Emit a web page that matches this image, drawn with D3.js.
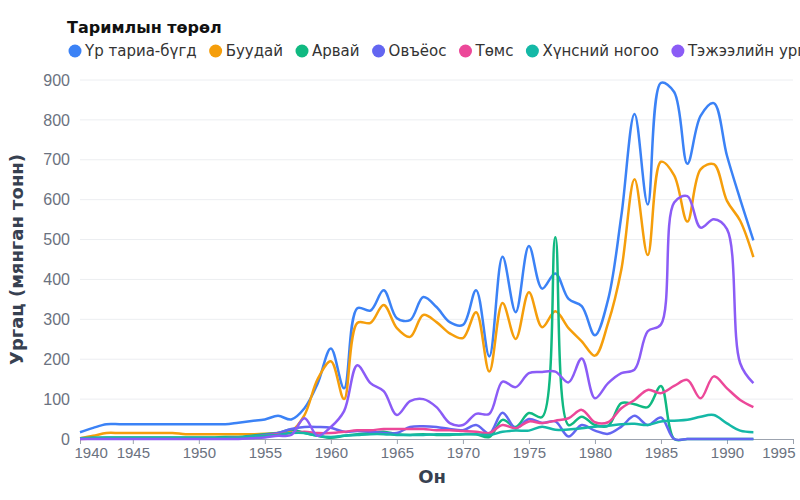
<!DOCTYPE html>
<html>
<head>
<meta charset="utf-8">
<script src="https://cdn.jsdelivr.net/npm/d3@7"></script>
<style>
  body { margin: 0; background: #fff; }
  svg { font-family: "DejaVu Sans", "Noto Sans", sans-serif; }
</style>
</head>
<body>
<svg id="chart" width="800" height="500"></svg>
<script>
// years 1941 - 1992
const years = d3.range(1941, 1993);
const seriesNames = ["Үр тариа-бүгд", "Буудай", "Арвай", "Овъёос", "Төмс", "Хүнсний ногоо", "Тэжээлийн ургамал"];
const colors = ["#3b82f6", "#f59e0b", "#10b981", "#6366f1", "#ec4899", "#14b8a6", "#8b5cf6"];

const grain = [17, 28, 37, 37, 37, 37, 37, 37, 37, 37, 37, 37, 41, 45, 49, 58, 49, 77, 139, 227,
  127, 328, 322, 373, 303, 298, 356, 331, 293, 286, 373, 207, 457, 318, 484, 377, 415, 351, 333, 260,
  350, 560, 815, 588, 893, 870, 690, 810, 842, 710, 601, 498];
const wheat = [2, 8, 15, 15, 15, 15, 15, 15, 12, 12, 12, 12, 12, 12, 13, 15, 20, 60, 150, 195,
  100, 291, 291, 336, 278, 256, 311, 293, 265, 253, 318, 169, 341, 251, 368, 280, 320, 278, 245, 209,
  291, 425, 651, 461, 695, 661, 545, 676, 689, 597, 547, 456];
const barley = [2, 3, 4, 4, 4, 4, 4, 4, 4, 4, 4, 5, 5, 8, 12, 15, 24, 15, 8, 3,
  8, 12, 15, 18, 12, 10, 12, 10, 10, 12, 12, 5, 48, 30, 65, 55, 506, 35, 56, 35,
  33, 90, 87, 80, 133, 0, 0, 0, 0, 0, 0, 0];
const oats = [1, 2, 2, 2, 2, 2, 2, 2, 2, 2, 2, 2, 4, 6, 10, 15, 25, 30, 30, 28,
  18, 20, 18, 15, 15, 30, 32, 30, 25, 22, 35, 14, 66, 27, 50, 40, 44, 6, 35, 21,
  13, 31, 58, 35, 54, 0, 0, 0, 0, 0, 0, 0];
const potato = [0, 1, 1, 1, 1, 1, 1, 1, 1, 1, 2, 2, 3, 5, 8, 12, 15, 18, 15, 15,
  18, 22, 22, 25, 25, 25, 25, 22, 22, 20, 18, 15, 35, 27, 44, 40, 46, 52, 73, 42,
  42, 77, 98, 123, 115, 133, 148, 102, 157, 127, 98, 80];
const vegetables = [2, 3, 3, 3, 3, 3, 3, 3, 3, 3, 3, 3, 4, 6, 8, 10, 15, 15, 8, 5,
  8, 10, 12, 12, 10, 10, 10, 12, 12, 12, 12, 10, 18, 21, 21, 31, 23, 24, 27, 31,
  33, 37, 38, 35, 44, 46, 48, 56, 60, 39, 21, 17];
const fodder = [0, 0, 0, 0, 0, 0, 0, 0, 0, 0, 0, 0, 0, 2, 4, 8, 10, 52, 8, 30,
  70, 185, 140, 120, 60, 95, 100, 80, 40, 35, 63, 63, 144, 130, 165, 168, 169, 142, 202, 102,
  140, 165, 174, 270, 287, 593, 609, 530, 551, 526, 190, 140];

const allSeries = [grain, wheat, barley, oats, potato, vegetables, fodder];
const xTicks = [1940, 1945, 1950, 1955, 1960, 1965, 1970, 1975, 1980, 1985, 1990, 1995];
const yTicks = [0, 100, 200, 300, 400, 500, 600, 700, 800, 900];

const svg = d3.select("#chart");
const margin = {left: 80, right: 7, top: 80, bottom: 61};
const width = 800, height = 500;

const x = d3.scaleLinear().domain([1941, 1995]).range([margin.left, width - margin.right]).clamp(true);
const y = d3.scaleLinear().domain([0, 900]).range([height - margin.bottom, margin.top]);

// gridlines
svg.append("g")
  .selectAll("line")
  .data(yTicks.slice(1))
  .join("line")
  .attr("x1", margin.left).attr("x2", width - margin.right)
  .attr("y1", d => y(d)).attr("y2", d => y(d))
  .attr("stroke", "#eceef1").attr("stroke-width", 1);

// y axis
const yAxis = svg.append("g")
  .attr("transform", `translate(${margin.left},0)`)
  .call(d3.axisLeft(y).tickValues(yTicks).tickSize(0).tickPadding(10));
yAxis.select(".domain").remove();
yAxis.selectAll("text").attr("fill", "#6b7280").style("font-size", "16px");

// x axis
const xAxis = svg.append("g")
  .attr("transform", `translate(0,${height - margin.bottom})`)
  .call(d3.axisBottom(x).tickValues(xTicks).tickFormat(d3.format("d")).tickSize(5).tickPadding(3));
xAxis.select(".domain").attr("stroke", "#9ca3af");
xAxis.selectAll("line").attr("stroke", "#9ca3af");
xAxis.selectAll("text").attr("fill", "#6b7280").style("font-size", "15px");
// first and last labels kept inside the plot edges
xAxis.selectAll(".tick text").filter(d => d === 1940).attr("text-anchor", "start").attr("dx", -6);
xAxis.selectAll(".tick text").filter(d => d === 1995).attr("text-anchor", "end").attr("dx", 2);

// lines
const line = d3.line()
  .x((d, i) => x(years[i]))
  .y(d => y(d))
  .curve(d3.curveCatmullRom);

svg.append("g")
  .selectAll("path")
  .data(allSeries)
  .join("path")
  .attr("fill", "none")
  .attr("stroke", (d, i) => colors[i])
  .attr("stroke-width", 2.5)
  .attr("stroke-linejoin", "round")
  .attr("d", line);

// axis titles
svg.append("text")
  .attr("x", 432).attr("y", 483)
  .attr("text-anchor", "middle")
  .attr("fill", "#374151")
  .style("font-size", "18px").style("font-weight", "bold")
  .text("Он");

svg.append("text")
  .attr("transform", `translate(23,${(margin.top + height - margin.bottom) / 2}) rotate(-90)`)
  .attr("text-anchor", "middle")
  .attr("fill", "#374151")
  .style("font-size", "18px").style("font-weight", "bold")
  .text("Ургац (мянган тонн)");

// legend
svg.append("text")
  .attr("x", 67).attr("y", 33)
  .attr("fill", "#111")
  .style("font-size", "16px").style("font-weight", "bold")
  .text("Таримлын төрөл");

const legend = svg.append("g");
let lx = 75;
seriesNames.forEach((name, i) => {
  const item = legend.append("g").attr("transform", `translate(${lx},51)`);
  item.append("circle").attr("r", 6.5).attr("fill", colors[i]);
  const t = item.append("text")
    .attr("x", 10).attr("y", 5)
    .attr("fill", "#333")
    .style("font-size", "15px")
    .text(name);
  lx += 10 + t.node().getComputedTextLength() + 19;
});
</script>
</body>
</html>
